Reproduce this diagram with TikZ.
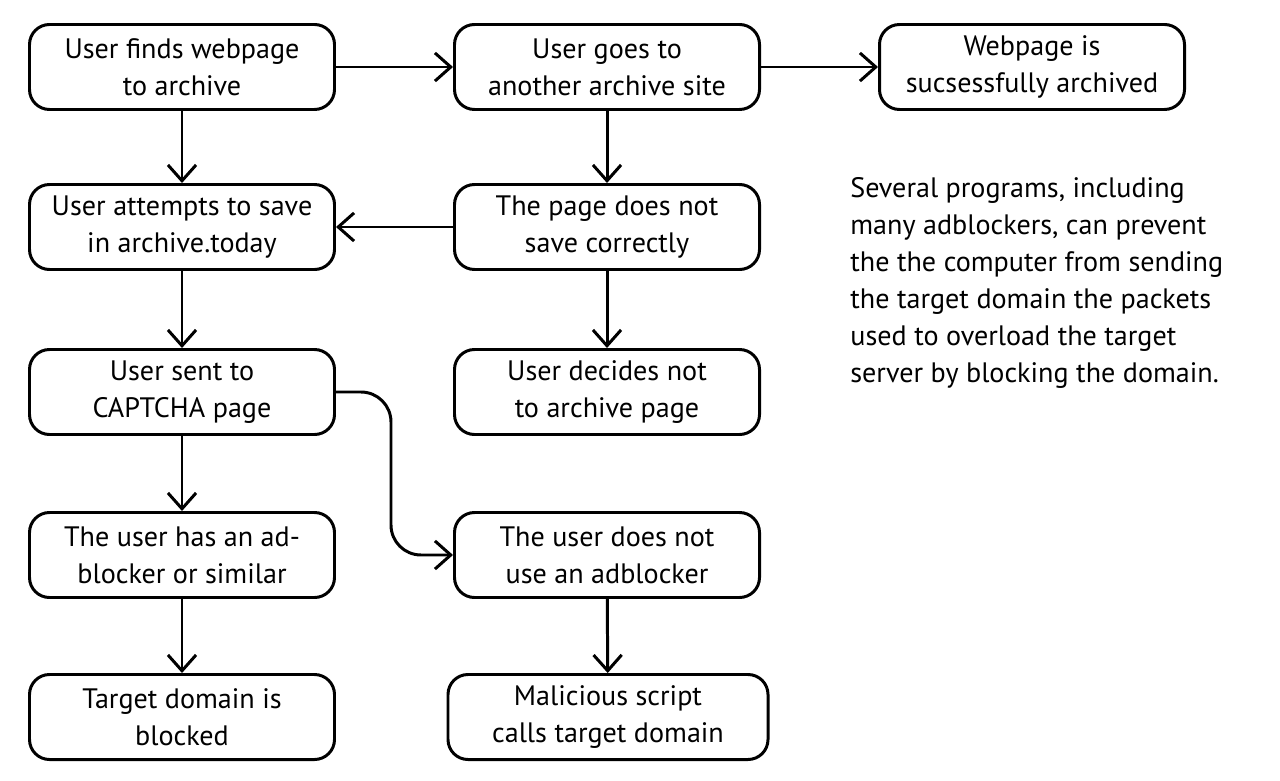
\documentclass[tikz,border=0pt]{standalone}
\usepackage{fontspec}
\setmainfont{PT Sans}
\usetikzlibrary{arrows.meta}
\usetikzlibrary{positioning}

\tikzset{
    stage/.style={draw, line width=1.7pt, rounded corners=0.4cm,
        minimum width=6.1cm, minimum height=1.7cm, align=center,
        inner sep=2pt, font=\fontsize{16}{21}\selectfont},
    flow/.style={line width=1.7pt, -{Straight Barb[length=9pt, width=16pt, line width=1.7pt]}}
}

\begin{document}
\begin{tikzpicture}

    \useasboundingbox (0,0) rectangle (25.6,-15.62);

    % left column
    \node[stage] (find) at (3.64,-1.34) {User finds webpage\\to archive};
    \node[stage] (attempt) at (3.64,-4.54) {User attempts to save\\in archive.today};
    \node[stage] (captcha) at (3.64,-7.84) {User sent to\\CAPTCHA page};
    \node[stage] (hasblock) at (3.64,-11.10) {The user has an ad-\\blocker or similar};
    \node[stage] (blocked) at (3.64,-14.34) {Target domain is\\blocked};

    % middle column
    \node[stage] (other) at (12.14,-1.34) {User goes to\\another archive site};
    \node[stage] (nosave) at (12.14,-4.54) {The page does not\\save correctly};
    \node[stage] (decide) at (12.14,-7.84) {User decides not\\to archive page};
    \node[stage] (noblock) at (12.14,-11.10) {The user does not\\use an adblocker};
    \node[stage, minimum width=6.4cm] (script) at (12.16,-14.34) {Malicious script\\calls target domain};

    % right column
    \node[stage] (saved) at (20.64,-1.34) {Webpage is\\sucsessfully archived};

    % note
    \node[anchor=north west, align=left, inner sep=0pt,
        font=\fontsize{16}{21}\selectfont] (note) at (17.0,-3.55)
        {Several programs, including\\many adblockers, can prevent\\the the computer from sending\\the target domain the packets\\used to overload the target\\server by blocking the domain.};

    % connectors
    \draw[flow] (find) -- (attempt);
    \draw[flow] (attempt) -- (captcha);
    \draw[flow] (captcha) -- (hasblock);
    \draw[flow] (hasblock) -- (blocked);
    \draw[flow] (find) -- (other);
    \draw[flow] (other) -- (saved);
    \draw[flow] (other) -- (nosave);
    \draw[flow] (nosave) -- (attempt);
    \draw[flow] (nosave) -- (decide);
    \draw[flow] (noblock) -- (script);
    \draw[flow, rounded corners=0.6cm] (captcha.east) -- ++(1.1,0) |- (noblock.west);

\end{tikzpicture}
\end{document}
